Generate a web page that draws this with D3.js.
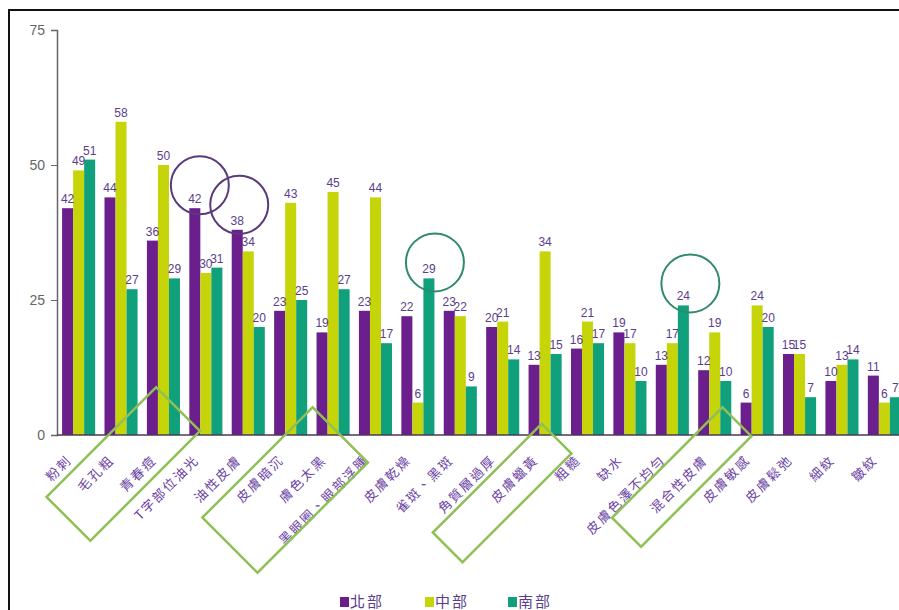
<!DOCTYPE html>
<html>
<head>
<meta charset="utf-8">
<script src="https://cdnjs.cloudflare.com/ajax/libs/d3/7.8.5/d3.min.js"></script>
<style>
  body { margin: 0; background: #fff; }
  svg { display: block; }
</style>
</head>
<body>
<div id="chart"></div>
<script>
// categories and values
const categories = ['粉刺', '毛孔粗', '青春痘', 'T字部位油光', '油性皮膚', '皮膚暗沉', '膚色太黑',
  '黑眼圈、眼部浮腫', '皮膚乾燥', '雀斑、黑斑', '角質層過厚', '皮膚蠟黃', '粗糙', '缺水',
  '皮膚色澤不均勻', '混合性皮膚', '皮膚敏感', '皮膚鬆弛', '細紋', '皺紋'];
const north  = [42, 44, 36, 42, 38, 23, 19, 23, 22, 23, 20, 13, 16, 19, 13, 12, 6, 15, 10, 11];
const middle = [49, 58, 50, 30, 34, 43, 45, 44, 6, 22, 21, 34, 21, 17, 17, 19, 24, 15, 13, 6];
const south  = [51, 27, 29, 31, 20, 25, 27, 17, 29, 9, 14, 15, 17, 10, 24, 10, 20, 7, 14, 7];
const seriesNames = ['北部', '中部', '南部'];
const yTicks = [0, 25, 50, 75];

const colors = ['#6a1f8c', '#c6d40a', '#11a07c'];
const width = 899, height = 610;

const svg = d3.select('#chart').append('svg')
  .attr('width', width).attr('height', height);

// outer frame, cut off at right and bottom
svg.append('rect')
  .attr('x', 9).attr('y', 10).attr('width', 900).attr('height', 610)
  .attr('fill', 'none').attr('stroke', '#111').attr('stroke-width', 2);

const x0 = d3.scaleBand().domain(categories).range([57, 906])
  .paddingInner(0.22).paddingOuter(0.12);
const x1 = d3.scaleBand().domain(seriesNames).range([0, x0.bandwidth()]);
const y = d3.scaleLinear().domain([0, 75]).range([435, 30]);

const rows = categories.map((c, i) => ({ cat: c, vals: [north[i], middle[i], south[i]] }));

// bars
const grp = svg.selectAll('g.grp').data(rows).join('g')
  .attr('class', 'grp')
  .attr('transform', d => `translate(${x0(d.cat)},0)`);

grp.selectAll('rect').data(d => d.vals.map((v, k) => ({ v, k })))
  .join('rect')
  .attr('x', d => x1(seriesNames[d.k]))
  .attr('width', x1.bandwidth())
  .attr('y', d => y(d.v))
  .attr('height', d => y(0) - y(d.v))
  .attr('fill', d => colors[d.k]);

grp.selectAll('text').data(d => d.vals.map((v, k) => ({ v, k })))
  .join('text')
  .attr('x', d => x1(seriesNames[d.k]) + x1.bandwidth() / 2)
  .attr('y', d => y(d.v) - 5)
  .attr('text-anchor', 'middle')
  .attr('font-family', 'Liberation Sans, Arial, sans-serif')
  .attr('font-size', 12)
  .attr('fill', '#5a3d8c')
  .text(d => d.v);

// y axis
const yAxis = svg.append('g')
  .attr('transform', 'translate(57,0)')
  .call(d3.axisLeft(y).tickValues(yTicks).tickSize(6).tickPadding(6));
yAxis.select('.domain').attr('stroke', '#666').attr('stroke-width', 1.5);
yAxis.selectAll('.tick line').attr('stroke', '#666');
yAxis.selectAll('.tick text')
  .attr('font-family', 'Liberation Sans, Arial, sans-serif')
  .attr('font-size', 14).attr('fill', '#666');

// baseline
svg.append('line')
  .attr('x1', 57).attr('x2', width).attr('y1', y(0)).attr('y2', y(0))
  .attr('stroke', '#4a3a55').attr('stroke-width', 1.5);

// category labels
svg.append('g').selectAll('text').data(categories).join('text')
  .attr('transform', d => `translate(${x0(d) + x0.bandwidth() / 2 - 6},461) rotate(-45)`)
  .attr('text-anchor', 'end')
  .attr('font-family', 'Noto Sans CJK TC, sans-serif')
  .attr('font-size', 13)
  .attr('letter-spacing', 2)
  .attr('fill', '#6b3fa3')
  .text(d => d);

// highlight circles over a few bars
const circles = [
  { cat: 'T字部位油光', k: 0, dx: 5, dy: -23, c: '#5b3a7a' },
  { cat: '油性皮膚', k: 0, dx: 2, dy: -25, c: '#5b3a7a' },
  { cat: '皮膚乾燥', k: 2, dx: 6, dy: -16, c: '#2f8a6a' },
  { cat: '皮膚色澤不均勻', k: 2, dx: 7, dy: -22, c: '#2f8a6a' }
];
const sets = [north, middle, south];
svg.append('g').selectAll('circle').data(circles).join('circle')
  .attr('cx', d => x0(d.cat) + x1(seriesNames[d.k]) + x1.bandwidth() / 2 + d.dx)
  .attr('cy', d => y(sets[d.k][categories.indexOf(d.cat)]) + d.dy)
  .attr('r', 29)
  .attr('fill', 'none').attr('stroke', d => d.c).attr('stroke-width', 2);

// tilted boxes around some labels
const boxes = [
  { cats: ['毛孔粗', '青春痘'], dx: -19, cy: 464, len: 155, w: 62 },
  { cats: ['皮膚暗沉', '膚色太黑', '黑眼圈、眼部浮腫'], dx: -48, cy: 490, len: 156, w: 78 },
  { cats: ['皮膚蠟黃'], dx: -43, cy: 493, len: 154, w: 42 },
  { cats: ['混合性皮膚'], dx: -33, cy: 477, len: 156, w: 41 }
];
svg.append('g').selectAll('rect').data(boxes).join('rect')
  .attr('transform', d => {
    const cx = d3.mean(d.cats, c => x0(c) + x0.bandwidth() / 2) + d.dx;
    return `translate(${cx},${d.cy}) rotate(-45)`;
  })
  .attr('x', d => -d.len / 2).attr('y', d => -d.w / 2)
  .attr('width', d => d.len).attr('height', d => d.w)
  .attr('fill', 'none').attr('stroke', '#8fc056').attr('stroke-width', 2.5);

// legend
const legendX = [340, 425, 508];
const lg = svg.append('g').selectAll('g').data(seriesNames).join('g')
  .attr('transform', (d, i) => `translate(${legendX[i]},597)`);
lg.append('rect').attr('width', 9).attr('height', 10).attr('fill', (d, i) => colors[i]);
lg.append('text')
  .attr('x', 10).attr('y', 10)
  .attr('font-family', 'Noto Sans CJK TC, sans-serif')
  .attr('font-size', 15)
  .attr('letter-spacing', 2)
  .attr('fill', '#5a3d8c')
  .text(d => d);
</script>
</body>
</html>
